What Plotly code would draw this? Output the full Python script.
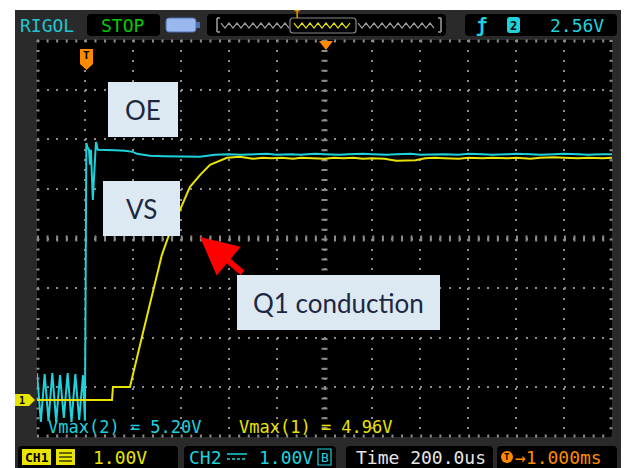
import plotly.graph_objects as go

# ---------------- data (time in us, trigger at t = 0; voltage in V, 1 V/div) ----------------
ch1_t = [-200, 113, 117, 188, 238, 284, 321, 346, 376, 397, 438, 480, 522, 593, 647,
         700, 740, 780, 820, 870, 900, 950, 1000, 1040, 1080, 1120, 1160, 1200, 1250,
         1300, 1340, 1380, 1420, 1460, 1500, 1560, 1600, 1660, 1700, 1760, 1800, 1860,
         1900, 1960, 2000, 2060, 2100, 2160, 2200]
ch1_v = [0, 0, 0.26, 0.26, 1.27, 2.22, 2.92, 3.26, 3.59, 3.83, 4.29, 4.53, 4.74, 4.88, 4.90,
         4.86, 4.88, 4.87, 4.88, 4.86, 4.88, 4.87, 4.86, 4.88, 4.87, 4.88, 4.86, 4.87, 4.86,
         4.82, 4.82, 4.83, 4.87, 4.88, 4.87, 4.86, 4.88, 4.87, 4.88, 4.87, 4.88, 4.86,
         4.88, 4.89, 4.88, 4.87, 4.88, 4.87, 4.88]

ch2_t = [-200, -184, -168, -152, -136, -120, -104, -88, -72, -56, -40, -24, -8, 0, 6,
         10, 17, 21, 25, 33, 42, 46, 54, 75, 125, 167, 200, 217, 271, 330, 400, 480, 543,
         600, 650, 700, 760, 800, 860, 900, 960, 1000, 1060, 1100, 1160, 1200, 1260, 1300,
         1360, 1400, 1460, 1500, 1560, 1600, 1660, 1700, 1760, 1800, 1860, 1900, 1960,
         2000, 2060, 2100, 2160, 2200]
ch2_v = [0.54, -0.44, 0.52, -0.42, 0.54, -0.44, 0.50, -0.36, 0.54, -0.44, 0.52, -0.40, 0.50, -0.42, 5.18,
         5.10, 5.04, 4.74, 5.04, 4.03, 4.84, 5.20, 5.04, 5.04, 5.03, 5.02, 5.00, 4.96, 4.92, 4.91, 4.90, 4.90, 4.94,
         4.95, 4.94, 4.95, 4.96, 4.94, 4.95, 4.94, 4.96, 4.95, 4.94, 4.95, 4.96, 4.95, 4.94, 4.95,
         4.96, 4.94, 4.95, 4.95, 4.94, 4.96, 4.95, 4.94, 4.95, 4.96, 4.95, 4.94, 4.95,
         4.96, 4.95, 4.94, 4.95, 4.95]

x_range = [-200, 2200]      # 12 div x 200 us
y_range = [-0.746, 7.254]   # 8 div x 1 V, CH1/CH2 ground at 0 V

top_labels = {"brand": "RIGOL", "state": "STOP", "trig": "2.56V"}
bottom_labels = {"ch1": "1.00V", "ch2": "1.00V", "time": "Time 200.0us", "delay": "\u21921.000ms"}
meas_labels = ["Vmax(2) = 5.20V", "Vmax(1) = 4.96V"]
callouts = ["OE", "VS", "Q1 conduction"]

# ---------------- helpers (window pixel -> paper); page body has an 8px margin ----------------
OFF = 8
W, H = 629 - OFF, 468 - OFF
def X(x): return (x - OFF) / W
def Y(y): return 1 - (y - OFF) / H
def pt(x, y): return f"{X(x):.5f},{Y(y):.5f}"

MONO = "DejaVu Sans Mono"
CYAN = "#1ed2dc"
YEL = "#e8e400"
ORANGE = "#ff8a00"

shapes = []
annots = []

def rect(x0, y0, x1, y1, fill, line=None, lw=0, layer="below"):
    shapes.append(dict(type="rect", xref="paper", yref="paper", x0=X(x0), x1=X(x1), y0=Y(y1), y1=Y(y0),
                       fillcolor=fill, line=dict(color=line or fill, width=lw), layer=layer))

def rrect(x0, y0, x1, y1, r, fill, line=None, lw=0, layer="below"):
    p = (f"M{pt(x0+r,y0)} L{pt(x1-r,y0)} Q{pt(x1,y0)} {pt(x1,y0+r)} L{pt(x1,y1-r)} "
         f"Q{pt(x1,y1)} {pt(x1-r,y1)} L{pt(x0+r,y1)} Q{pt(x0,y1)} {pt(x0,y1-r)} "
         f"L{pt(x0,y0+r)} Q{pt(x0,y0)} {pt(x0+r,y0)} Z")
    shapes.append(dict(type="path", xref="paper", yref="paper", path=p, fillcolor=fill,
                       line=dict(color=line or fill, width=lw), layer=layer))

def poly(points, fill, layer="below", line=None, lw=0, close=True):
    p = "M" + " L".join(pt(a, b) for a, b in points) + (" Z" if close else "")
    d = dict(type="path", xref="paper", yref="paper", path=p,
             line=dict(color=line or fill, width=lw), layer=layer)
    if close:
        d["fillcolor"] = fill
    shapes.append(d)

def seg(x0, y0, x1, y1, color, w, dash="solid", layer="below"):
    shapes.append(dict(type="line", xref="paper", yref="paper", x0=X(x0), y0=Y(y0), x1=X(x1), y1=Y(y1),
                       line=dict(color=color, width=w, dash=dash), layer=layer))

def txt(x, y, s, color, size, family=MONO, xanchor="center"):
    annots.append(dict(x=X(x), y=Y(y), xref="paper", yref="paper", text=s,
                       showarrow=False, xanchor=xanchor, yanchor="middle",
                       font=dict(color=color, size=size, family=family)))

# ---------------- scope frame ----------------
rect(15, 10, 621, 470, "#2a2a2a")
rect(37, 40, 612, 437, "#000000")

# top bar
txt(47, 25, top_labels["brand"], "#22c4cf", 18)
rrect(87, 14, 160, 36, 4, "#000000")
txt(123, 25, top_labels["state"], "#00cc00", 18)
rrect(166, 18, 196, 32, 3, "#9ab8ee", line="#4d6fb5", lw=1)
rect(196, 22, 200, 28, "#4d6fb5")
rrect(207, 14, 446, 36, 4, "#000000")
# memory-depth indicator
seg(217, 18, 217, 32, "#a0a0a0", 1.5); seg(217, 18, 220, 18, "#a0a0a0", 1.5); seg(217, 32, 220, 32, "#a0a0a0", 1.5)
seg(441, 18, 441, 32, "#a0a0a0", 1.5); seg(438, 18, 441, 18, "#a0a0a0", 1.5); seg(438, 32, 441, 32, "#a0a0a0", 1.5)
def zig(xa, xb, color):
    pts, k, x = [], 0, xa
    while x <= xb:
        pts.append((x, 23 if k % 2 == 0 else 28)); x += 4; k += 1
    poly(pts, None, line=color, lw=1.2, close=False)
zig(221, 289, "#a0a0a0")
zig(294, 352, YEL)
zig(358, 437, "#a0a0a0")
rrect(290, 18, 356, 33, 3, "rgba(0,0,0,0)", line="#8a8a8a", lw=1.2)
txt(297, 14, "<b>T</b>", ORANGE, 10)
rrect(465, 14, 617, 36, 4, "#000000")
txt(482, 25, "<b>\u0192</b>", CYAN, 19)
rrect(507, 17, 520, 33, 3, CYAN)
txt(513.5, 25.5, "<b>2</b>", "#000000", 12)
txt(577, 25, top_labels["trig"], CYAN, 18)

# bottom bar
rrect(18, 446, 178, 474, 4, "#000000")
rect(22, 449, 51, 465, YEL)
txt(36.5, 457, "<b>CH1</b>", "#000000", 13)
rect(56, 449, 75, 465, YEL)
for yy in (453, 457, 461):
    seg(59, yy, 72, yy, "#3a3a00", 1.5)
txt(120, 457, bottom_labels["ch1"], YEL, 18)
rrect(184, 446, 336, 474, 4, "#000000")
txt(206, 457, "CH2", CYAN, 18)
seg(227, 454, 247, 454, CYAN, 1.5)
seg(227, 459, 247, 459, CYAN, 1.5, dash="3px,2px")
txt(286, 457, bottom_labels["ch2"], CYAN, 18)
rect(318, 449, 331, 465, "#000000", line=CYAN, lw=1.2)
txt(324.5, 457, "B", CYAN, 13)
rrect(346, 446, 493, 474, 4, "#000000")
txt(421, 457, bottom_labels["time"], "#e6e6e6", 18)
rrect(497, 446, 617, 474, 4, "#000000")
shapes.append(dict(type="circle", xref="paper", yref="paper", x0=X(501), x1=X(513), y0=Y(463), y1=Y(451),
                   fillcolor=ORANGE, line=dict(color=ORANGE, width=0), layer="below"))
txt(507, 457, "<b>T</b>", "#000000", 9)
txt(513, 457, bottom_labels["delay"], ORANGE, 18, xanchor="left")

# graticule: border ticks and centre axes
seg(37, 41, 612, 41, "#8c8c8c", 3, dash="2px,7.58px")
seg(37, 436, 612, 436, "#8c8c8c", 3, dash="2px,7.58px")
seg(38, 40, 38, 437, "#8c8c8c", 3, dash="2px,7.93px")
seg(611, 40, 611, 437, "#8c8c8c", 3, dash="2px,7.93px")
seg(37, 238.5, 612, 238.5, "#8c8c8c", 6, dash="2px,7.58px")
seg(324.5, 40, 324.5, 437, "#8c8c8c", 6, dash="2px,7.93px")

# markers
poly([(15, 394), (29, 394), (35, 400), (29, 406), (15, 406)], YEL, layer="above")
txt(22, 400, "<b>1</b>", "#000000", 10)
poly([(80, 49), (93, 49), (93, 64), (86.5, 70), (80, 64)], ORANGE, layer="above")
txt(86.5, 56, "<b>T</b>", "#000000", 11)
poly([(319, 41), (333, 41), (326, 50)], ORANGE, layer="above")

# measurements
txt(46, 427, meas_labels[0], CYAN, 17, xanchor="left")
txt(237, 427, meas_labels[1], YEL, 17, xanchor="left")

# callout boxes
BOXF = "#dce9f3"
LBL = dict(family="Lato", size=26, color="#1c2742")
for (x0, y0, x1, y1), s in zip([(108, 82, 178, 137), (103, 181, 180, 236), (237, 275, 440, 330)], callouts):
    rect(x0, y0, x1, y1, BOXF, layer="above")
    annots.append(dict(x=X((x0 + x1) / 2), y=Y((y0 + y1) / 2), xref="paper", yref="paper", text=s,
                       showarrow=False, font=LBL, xanchor="center", yanchor="middle"))

annots.append(dict(x=X(200), y=Y(237), xref="paper", yref="paper", text="", showarrow=True,
                   ax=44, ay=37, arrowhead=2, arrowsize=1.25, arrowwidth=6, arrowcolor="#ff0000"))

# ---------------- figure ----------------
fig = go.Figure()
fig.add_trace(go.Scatter(x=ch2_t, y=ch2_v, mode="lines", line=dict(color=CYAN, width=2), name="CH2 OE"))
fig.add_trace(go.Scatter(x=ch1_t, y=ch1_v, mode="lines", line=dict(color=YEL, width=2), name="CH1 VS"))

fig.update_layout(
    width=W, height=H, margin=dict(l=0, r=0, t=0, b=0),
    paper_bgcolor="white", plot_bgcolor="rgba(0,0,0,0)", showlegend=False,
    shapes=shapes, annotations=annots,
    xaxis=dict(domain=[X(37), X(612)], range=x_range, tick0=-200, dtick=200, showgrid=True,
               gridcolor="#8c8c8c", gridwidth=1.5, griddash="2px,7.93px", zeroline=False,
               showticklabels=False, ticks="", showline=False, fixedrange=True),
    yaxis=dict(domain=[Y(437), Y(40)], range=y_range, tick0=0.254, dtick=1, showgrid=True,
               gridcolor="#8c8c8c", gridwidth=1.5, griddash="2px,7.58px", zeroline=False,
               showticklabels=False, ticks="", showline=False, fixedrange=True),
)
fig.write_html("out.html")
